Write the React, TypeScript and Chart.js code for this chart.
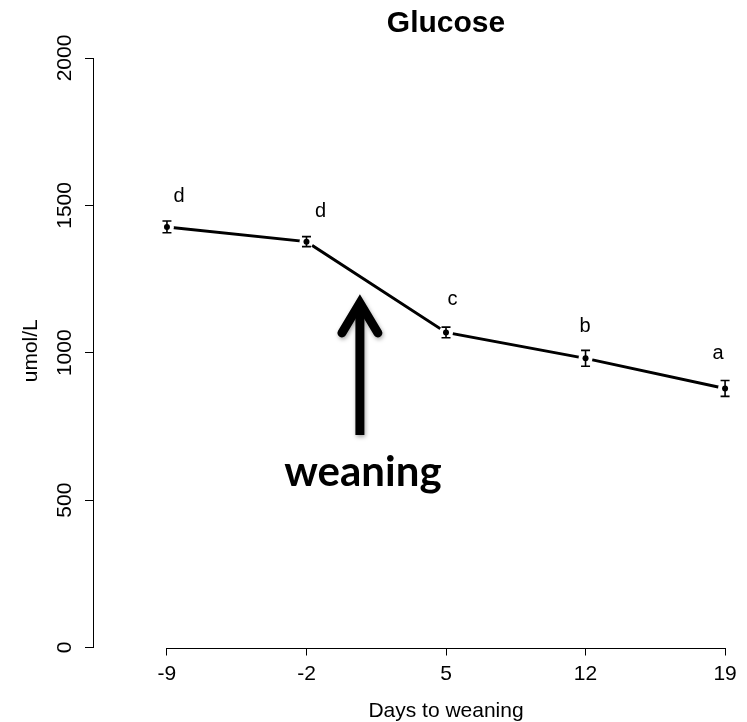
import React, { useEffect, useRef } from "react";
import { Chart, registerables } from "chart.js";

Chart.register(...registerables);

// ---- data ----
const days = [-9, -2, 5, 12, 19];
const glucose = [1427, 1377, 1069, 981, 879];
const se = [20, 17, 18, 27, 27];
const letters = ["d", "d", "c", "b", "a"];
const xTicks = [-9, -2, 5, 12, 19];
const yTicks = [0, 500, 1000, 1500, 2000];
const titleText = "Glucose";
const xTitle = "Days to weaning";
const yTitle = "umol/L";
const arrowLabel = "weaning";
const arrowDay = 0.68;
const arrowFrom = 721;
const arrowTo = 1179;

// ---- style (pixel offsets for the letters) ----
const letterDx = [12, 14, 6.5, -0.5, -7];
const letterDy = [25, 25, 27, 26, 29];

const FONT = "'Liberation Sans', Arial, Helvetica, sans-serif";

const rPlugin = {
  id: "rstyle",
  afterDatasetsDraw(chart: any) {
    const ctx = chart.ctx;
    const xs = chart.scales.x;
    const ys = chart.scales.y;
    ctx.save();
    ctx.strokeStyle = "#000";
    ctx.lineWidth = 1.6;
    days.forEach((d, i) => {
      const x = xs.getPixelForValue(d);
      const y1 = ys.getPixelForValue(glucose[i] + se[i]);
      const y2 = ys.getPixelForValue(glucose[i] - se[i]);
      ctx.beginPath();
      ctx.moveTo(x, y1);
      ctx.lineTo(x, y2);
      ctx.moveTo(x - 4.5, y1);
      ctx.lineTo(x + 4.5, y1);
      ctx.moveTo(x - 4.5, y2);
      ctx.lineTo(x + 4.5, y2);
      ctx.stroke();
    });
    ctx.restore();
  },
  afterDraw(chart: any) {
    const ctx = chart.ctx;
    const xs = chart.scales.x;
    const ys = chart.scales.y;
    const x0 = xs.getPixelForValue(xTicks[0]);
    const x1 = xs.getPixelForValue(xTicks[xTicks.length - 1]);
    const bottom = chart.chartArea.bottom;
    ctx.save();
    // x axis line (R style, from first to last tick)
    ctx.strokeStyle = "#000";
    ctx.lineWidth = 1;
    ctx.beginPath();
    ctx.moveTo(x0, Math.round(bottom) + 0.5);
    ctx.lineTo(x1 + 0.5, Math.round(bottom) + 0.5);
    ctx.stroke();

    const cx = (x0 + x1) / 2;
    ctx.fillStyle = "#000";
    // title
    ctx.font = `bold 30px ${FONT}`;
    ctx.textAlign = "center";
    ctx.textBaseline = "alphabetic";
    ctx.fillText(titleText, cx, 32);
    // x title
    ctx.font = `21px ${FONT}`;
    ctx.fillText(xTitle, cx, 717);
    // y title
    ctx.save();
    ctx.translate(37, (ys.getPixelForValue(0) + ys.getPixelForValue(2000)) / 2 - 2);
    ctx.rotate(-Math.PI / 2);
    ctx.fillText(yTitle, 0, 0);
    ctx.restore();

    // letters
    ctx.font = `20px ${FONT}`;
    days.forEach((d, i) => {
      const x = xs.getPixelForValue(d) + letterDx[i];
      const y = ys.getPixelForValue(glucose[i]) - letterDy[i];
      ctx.fillText(letters[i], x, y);
    });

    // arrow
    const ax = xs.getPixelForValue(arrowDay);
    const ayTop = ys.getPixelForValue(arrowTo);
    const ayBot = ys.getPixelForValue(arrowFrom);
    ctx.save();
    ctx.shadowColor = "rgba(0,0,0,0.35)";
    ctx.shadowBlur = 4;
    ctx.shadowOffsetX = 1;
    ctx.shadowOffsetY = 2;
    ctx.strokeStyle = "#000";
    ctx.lineWidth = 9;
    ctx.lineCap = "butt";
    ctx.beginPath();
    ctx.moveTo(ax, ayBot);
    ctx.lineTo(ax, ayTop + 6);
    ctx.stroke();
    ctx.lineCap = "round";
    ctx.lineJoin = "miter";
    ctx.beginPath();
    ctx.moveTo(ax - 18, ayTop + 33);
    ctx.lineTo(ax, ayTop + 3);
    ctx.lineTo(ax + 18, ayTop + 33);
    ctx.stroke();
    ctx.restore();

    // weaning label
    ctx.font = `bold 42px Lato, 'Open Sans', sans-serif`;
    ctx.textAlign = "center";
    ctx.fillText(arrowLabel, ax + 3, ayBot + 51);
    ctx.restore();
  },
};

export default function App() {
  const ref = useRef<HTMLCanvasElement>(null);
  useEffect(() => {
    if (!ref.current) return;
    const pts = days.map((d, i) => ({ x: d, y: glucose[i] }));
    const chart = new Chart(ref.current, {
      type: "line",
      data: {
        datasets: [
          {
            data: pts,
            borderColor: "#000",
            borderWidth: 3,
            pointRadius: 0,
            tension: 0,
            order: 3,
          },
          {
            data: pts,
            showLine: false,
            pointRadius: 7,
            pointBackgroundColor: "#fff",
            pointBorderWidth: 0,
            borderWidth: 0,
            order: 2,
          },
          {
            data: pts,
            showLine: false,
            pointRadius: 3,
            pointBackgroundColor: "#000",
            pointBorderWidth: 0,
            borderWidth: 0,
            order: 1,
          },
        ],
      },
      options: {
        animation: false,
        responsive: false,
        events: [],
        layout: { autoPadding: false, padding: { top: 58, left: 0, right: 0, bottom: 0 } },
        plugins: { legend: { display: false }, tooltip: { enabled: false }, title: { display: false } },
        scales: {
          x: {
            type: "linear",
            min: -12.71,
            max: 20.1,
            afterBuildTicks: (s: any) => {
              s.ticks = xTicks.map((v) => ({ value: v }));
            },
            afterFit: (s: any) => {
              s.height = 74.5;
              s.paddingLeft = 0;
              s.paddingRight = 0;
            },
            border: { display: false },
            grid: { display: true, drawOnChartArea: false, drawTicks: true, tickLength: 8, color: "#000", lineWidth: 1 },
            ticks: {
              color: "#000",
              font: { family: FONT, size: 21 },
              padding: 6,
              maxRotation: 0,
              minRotation: 0,
              callback: (v: any) => String(v),
            },
          },
          y: {
            type: "linear",
            min: 0,
            max: 2000,
            afterBuildTicks: (s: any) => {
              s.ticks = yTicks.map((v) => ({ value: v }));
            },
            afterFit: (s: any) => {
              s.width = 93;
              s.paddingTop = 0;
              s.paddingBottom = 0;
            },
            border: { display: true, color: "#000", width: 1 },
            grid: { display: true, drawOnChartArea: false, drawTicks: true, tickLength: 8, color: "#000", lineWidth: 1 },
            ticks: {
              color: "#000",
              font: { family: FONT, size: 21 },
              minRotation: 90,
              maxRotation: 90,
              crossAlign: "center",
              padding: -4,
              callback: (v: any) => String(v),
            },
          },
        },
      },
      plugins: [rPlugin],
    });
    return () => chart.destroy();
  }, []);
  return (
    <div style={{ position: "absolute", left: 0, top: 0, width: 747, height: 722, background: "#fff" }}>
      <canvas ref={ref} width={747} height={722} style={{ display: "block" }} />
    </div>
  );
}
